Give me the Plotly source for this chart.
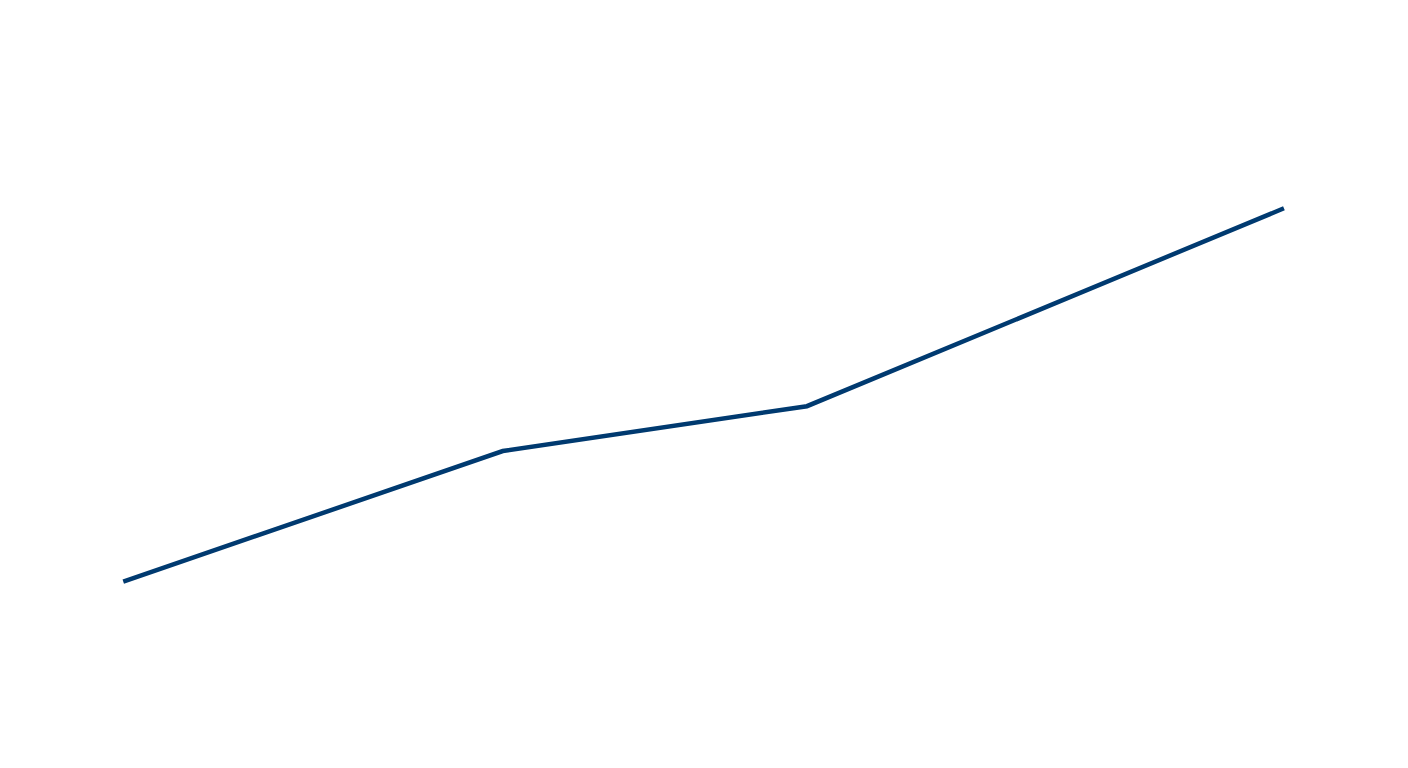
import plotly.graph_objects as go

# data
x_vals = [0, 3.27, 5.89, 10]
y_vals = [10, 13.5, 14.7, 20]

fig = go.Figure()
fig.add_trace(go.Scatter(
    x=x_vals, y=y_vals, mode="lines",
    line=dict(color="#003a70", width=4.5),
    hoverinfo="skip", showlegend=False
))

fig.update_layout(
    paper_bgcolor="white", plot_bgcolor="white",
    margin=dict(l=0, r=0, t=0, b=0),
    xaxis=dict(visible=False, range=[-0.993, 11.0]),
    yaxis=dict(visible=False, range=[5.225, 25.364]),
)

fig.write_html("out.html")
